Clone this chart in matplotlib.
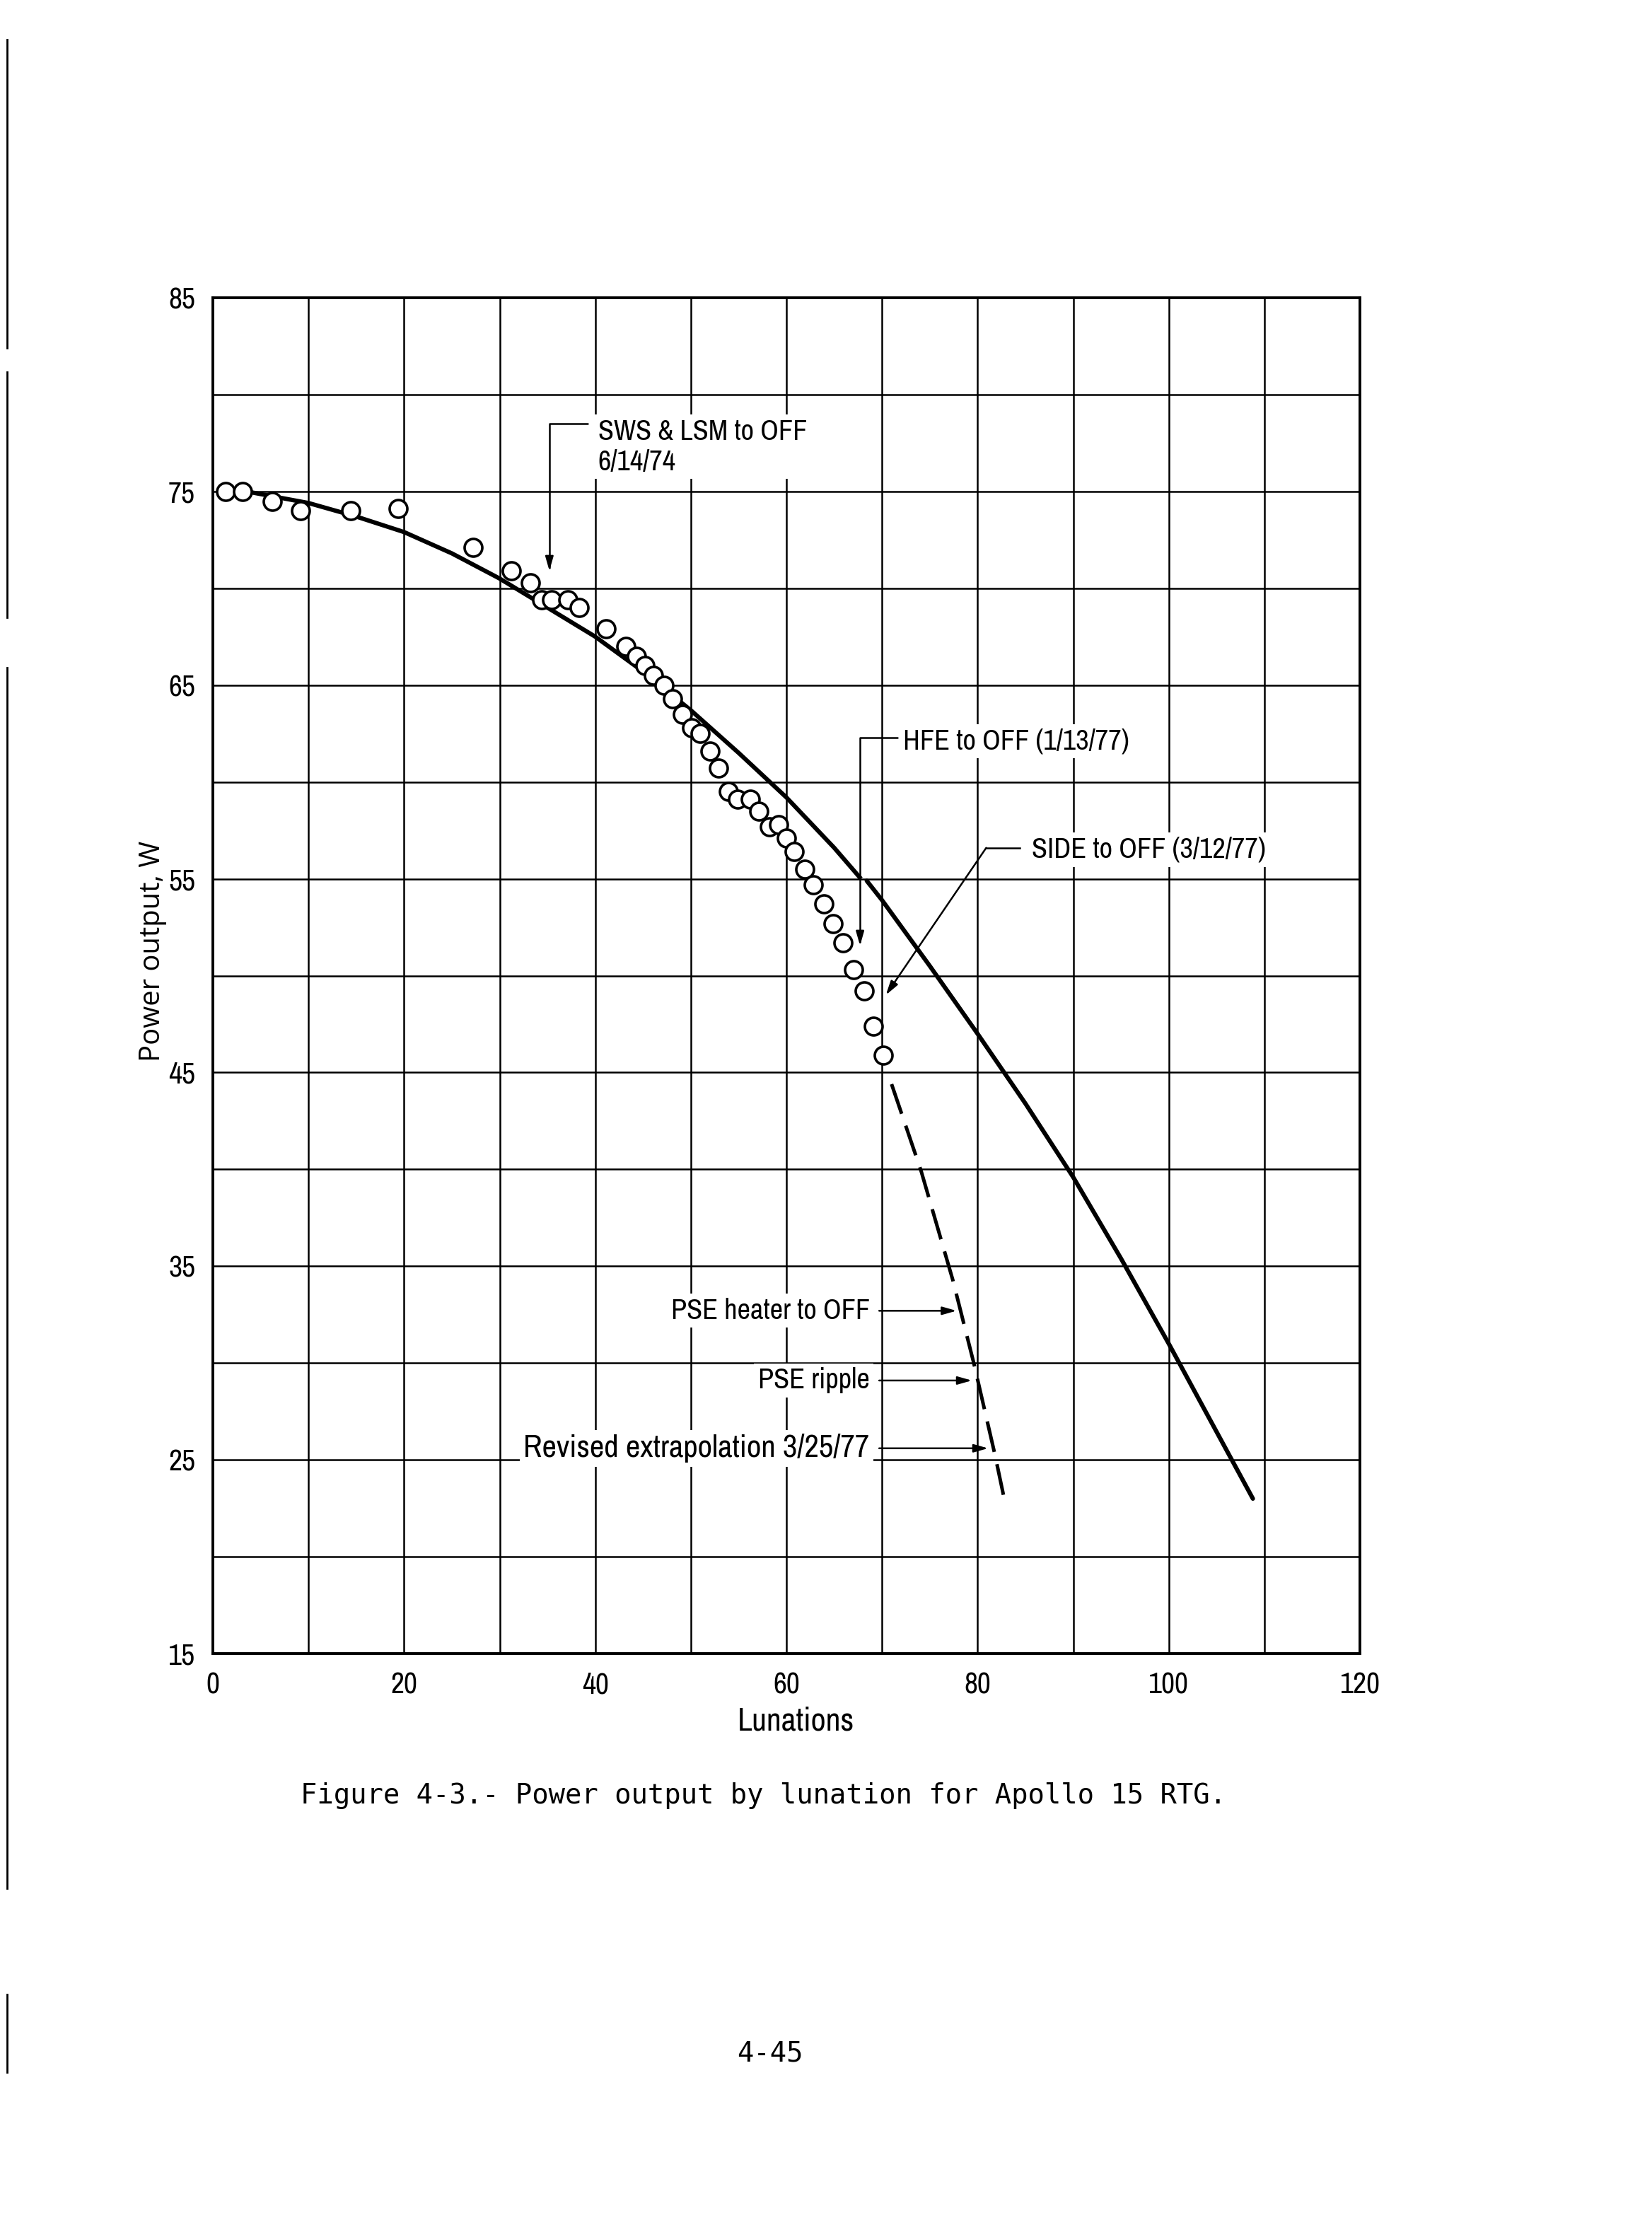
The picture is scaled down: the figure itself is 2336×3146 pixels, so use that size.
import numpy as np
import matplotlib
matplotlib.use('Agg')
import matplotlib.pyplot as plt
from matplotlib.ticker import MultipleLocator
from matplotlib.lines import Line2D

lunation = [1.3, 3.1, 6.2, 9.2, 14.4, 19.4, 27.2, 31.2, 33.2, 34.4, 35.4, 37.1,
            38.3, 41.1, 43.2, 44.3, 45.2, 46.1, 47.2, 48.1, 49.1, 50.1, 51.0,
            52.0, 52.9, 53.9, 54.9, 56.2, 57.1, 58.2, 59.2, 60.0, 60.8, 61.9,
            62.8, 63.9, 64.9, 65.9, 67.0, 68.1, 69.1, 70.1]
power = [75.0, 75.0, 74.5, 74.0, 74.0, 74.1, 72.1, 70.9, 70.3, 69.4, 69.4, 69.4,
         69.0, 67.9, 67.0, 66.5, 66.0, 65.5, 65.0, 64.3, 63.5, 62.8, 62.5,
         61.6, 60.7, 59.5, 59.1, 59.1, 58.5, 57.7, 57.8, 57.1, 56.4, 55.5,
         54.7, 53.7, 52.7, 51.7, 50.3, 49.2, 47.4, 45.9]

# original extrapolation, two pieces
fit_lun_a = [3.5, 10, 15, 20, 25, 30, 35, 40, 45, 50, 55, 60, 65, 67.8]
fit_pow_a = [75.0, 74.4, 73.7, 72.9, 71.8, 70.5, 69.0, 67.5, 65.7, 63.7, 61.5, 59.2, 56.6, 55.0]
fit_lun_b = [68.4, 70, 75, 80, 85, 90, 95, 100, 106.6, 108.8]
fit_pow_b = [54.9, 53.9, 50.5, 47.0, 43.4, 39.6, 35.4, 31.0, 25.0, 23.0]

# revised extrapolation 3/25/77
revised_lun = [71.0, 74.1, 77.4, 79.6, 81.8, 82.7]
revised_pow = [44.4, 39.9, 34.3, 30.0, 25.3, 23.2]

x_ticks = [0, 20, 40, 60, 80, 100, 120]
y_ticks = [15, 25, 35, 45, 55, 65, 75, 85]

SANS = ['Archivo Narrow', 'DejaVu Sans']
MONO = ['DejaVu Sans Mono']
DPI = 200

fig = plt.figure(figsize=(11.68, 15.73), dpi=DPI)
ax = fig.add_axes([0.1289, 0.2568, 0.6943, 0.6094])
ax.set_xlim(0, 120)
ax.set_ylim(15, 85)

ax.plot(fit_lun_a, fit_pow_a, color='black', lw=2.2, zorder=3, solid_capstyle='butt')
ax.plot(fit_lun_b, fit_pow_b, color='black', lw=2.2, zorder=3, solid_capstyle='round')

# dashed line: 10 dashes, start and end on a dash like the drawing
pts = ax.transData.transform(np.column_stack([revised_lun, revised_pow]))
length = np.hypot(*np.diff(pts, axis=0).T).sum() * 72 / DPI
lw_dash = 1.8
unit = length / (10 * 9.2 + 9 * 3.7)
ax.plot(revised_lun, revised_pow, color='black', lw=lw_dash, zorder=3,
        dashes=(9.2 * unit / lw_dash, 3.7 * unit / lw_dash), dash_capstyle='butt')

ax.plot(lunation, power, 'o', ms=9, mfc='white', mec='black', mew=1.3, zorder=4)

ax.set_xticks(x_ticks)
ax.set_yticks(y_ticks)
ax.xaxis.set_minor_locator(MultipleLocator(10))
ax.yaxis.set_minor_locator(MultipleLocator(5))
ax.grid(which='both', color='black', lw=0.9)
ax.set_axisbelow(True)
ax.tick_params(which='both', length=0)
ax.tick_params(axis='x', pad=9)
ax.tick_params(axis='y', pad=9)
for lab in ax.get_xticklabels() + ax.get_yticklabels():
    lab.set_family(SANS)
    lab.set_fontsize(15)
for s in ax.spines.values():
    s.set_linewidth(1.4)

ax.set_xlabel('Lunations', family=SANS, fontsize=16.5)
ax.xaxis.set_label_coords(0.508, -0.039)
ax.set_ylabel('Power output, W', family=['Open Sans', 'DejaVu Sans'], fontsize=14.4)
ax.yaxis.set_label_coords(-0.040, 0.518)

box = dict(facecolor='white', edgecolor='none', pad=2)
txt = dict(family=SANS, bbox=box, zorder=5)
thin = dict(color='black', lw=0.9, zorder=5)
head = dict(arrowstyle='-|>,head_length=0.6,head_width=0.17', color='black', lw=0.9,
            shrinkA=0, shrinkB=0)

# SWS & LSM
ax.text(40.3, 77.3, 'SWS & LSM to OFF\n6/14/74', ha='left', va='center',
        linespacing=1.2, fontsize=14.5, **txt)
ax.annotate('', xy=(35.2, 70.9), xytext=(39.2, 78.5),
            arrowprops=dict(connectionstyle='angle,angleA=180,angleB=90,rad=0', **head))

# HFE
ax.text(72.2, 62.1, 'HFE to OFF (1/13/77)', ha='left', va='center', fontsize=14.5, **txt)
ax.annotate('', xy=(67.7, 51.55), xytext=(71.6, 62.3),
            arrowprops=dict(connectionstyle='angle,angleA=180,angleB=90,rad=0', **head))

# SIDE
ax.text(85.7, 56.5, 'SIDE to OFF (3/12/77)', ha='left', va='center', fontsize=14.5, **txt)
ax.plot([80.9, 84.4], [56.6, 56.6], **thin)
ax.annotate('', xy=(70.4, 49.0), xytext=(80.9, 56.6), arrowprops=head)

# PSE events on the revised curve
for label, yv, xe, fs in [('PSE heater to OFF', 32.7, 77.8, 14.5),
                          ('PSE ripple', 29.1, 79.4, 14.5),
                          ('Revised extrapolation 3/25/77', 25.6, 81.1, 16.1)]:
    ax.text(68.7, yv, label, ha='right', va='center', fontsize=fs, **txt)
    ax.annotate('', xy=(xe, yv), xytext=(69.7, yv), arrowprops=head)

fig.text(0.462, 0.193, 'Figure 4-3.- Power output by lunation for Apollo 15 RTG.',
         ha='center', va='center', family=MONO, fontsize=14)
fig.text(0.466, 0.077, '4-45', ha='center', va='center', family=MONO, fontsize=14)

# scanner edge on the left of the page
for y0, y1 in [(56, 492), (526, 873), (944, 2670), (2820, 2930)]:
    fig.add_artist(Line2D([0.0043, 0.0043], [1 - y0 / 3146, 1 - y1 / 3146],
                          color='black', lw=1.0))

fig.savefig('out.png', dpi=DPI, facecolor='white')
